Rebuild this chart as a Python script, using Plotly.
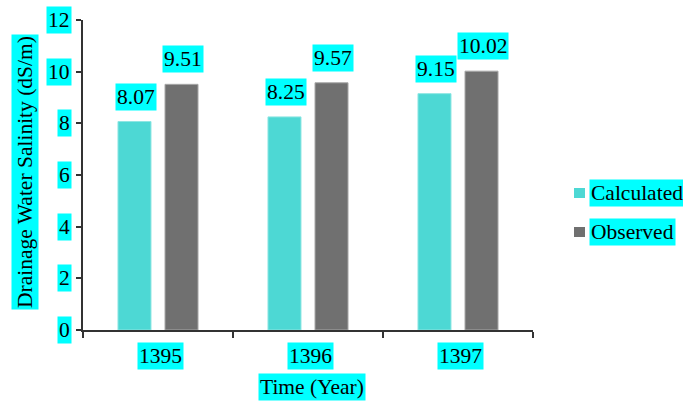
import plotly.graph_objects as go

# Data
years = ["1395", "1396", "1397"]
calculated = [8.07, 8.25, 9.15]
observed = [9.51, 9.57, 10.02]
y_ticks = [0, 2, 4, 6, 8, 10, 12]
series_names = ["Calculated", "Observed"]

# Styling
FONT = "Liberation Serif"
FS = 21.5
HILITE = "#00FFFF"
COL_CALC = "#4DD8D4"
COL_OBS = "#707070"

W, H = 683, 401
ML, MR, MT, MB = 83, 150, 20, 71
PW = W - ML - MR
PH = H - MT - MB


def px_x(px):
    return (px - ML) / PW


def px_y(py):
    return (H - MB - py) / PH


fig = go.Figure()
fig.add_trace(go.Bar(
    x=years, y=calculated, name=series_names[0],
    marker=dict(color=COL_CALC, line=dict(color="#8FE6E3", width=1)),
    showlegend=False,
))
fig.add_trace(go.Bar(
    x=years, y=observed, name=series_names[1],
    marker=dict(color=COL_OBS, line=dict(color="#A8A8A8", width=1)),
    showlegend=False,
))

annotations = []
common = dict(showarrow=False, bgcolor=HILITE, borderpad=1,
              font=dict(family=FONT, size=FS, color="black"))

# Value labels above bars (category positions given by index)
slot = PW / len(years) * (1 - 0.373) / 2
for vals, shift in ((calculated, -slot / 2), (observed, slot / 2)):
    for i, v in enumerate(vals):
        annotations.append(dict(x=i, y=v, xref="x", yref="y",
                                text=f"{v:.2f}", xshift=shift + 1.5, yshift=11,
                                xanchor="center", yanchor="bottom", **common))

# Y tick labels
for t in y_ticks:
    annotations.append(dict(x=0, y=t, xref="paper", yref="y", text=str(t),
                            xanchor="right", yanchor="middle", xshift=-11,
                            **common))

# X category labels
for i, yr in enumerate(years):
    annotations.append(dict(x=i, y=0, xref="x", yref="paper", text=yr,
                            xanchor="center", yanchor="top", yshift=-12,
                            xshift=2, **common))

# Axis titles
annotations.append(dict(x=px_x(312), y=px_y(387), xref="paper", yref="paper",
                        text="Time (Year)", xanchor="center", yanchor="middle",
                        **common))
annotations.append(dict(x=px_x(24.5), y=px_y(172.5), xref="paper", yref="paper",
                        text="Drainage Water Salinity (dS/m)", textangle=-90,
                        xanchor="center", yanchor="middle", **common))

# Legend
shapes = []
legend_rows = [(series_names[0], COL_CALC, 193), (series_names[1], COL_OBS, 232)]
for name, col, cy in legend_rows:
    shapes.append(dict(type="rect", xref="paper", yref="paper",
                       x0=px_x(574), x1=px_x(585), y0=px_y(cy - 5), y1=px_y(cy + 5),
                       fillcolor=col, line=dict(width=0)))
    annotations.append(dict(x=px_x(589), y=px_y(cy), xref="paper", yref="paper",
                            text=name, xanchor="left", yanchor="middle", **common))

fig.update_layout(
    width=W, height=H,
    margin=dict(l=ML, r=MR, t=MT, b=MB),
    paper_bgcolor="white", plot_bgcolor="white",
    barmode="group", bargap=0.373, bargroupgap=0.298,
    font=dict(family=FONT, size=FS, color="black"),
    annotations=annotations, shapes=shapes,
    xaxis=dict(type="category", showline=True, linecolor="#333333", linewidth=1.5,
               ticks="outside", tickson="boundaries", ticklen=6,
               tickcolor="#333333", tickwidth=1.5,
               showticklabels=False, showgrid=False,
               range=[-0.5, 2.5], fixedrange=True),
    yaxis=dict(showline=True, linecolor="#333333", linewidth=1.5,
               ticks="outside", ticklen=5, tickcolor="#333333", tickwidth=1.5,
               tickvals=y_ticks, showticklabels=False, showgrid=False,
               zeroline=False, range=[0, 12], fixedrange=True),
)

fig.write_html("out.html")
